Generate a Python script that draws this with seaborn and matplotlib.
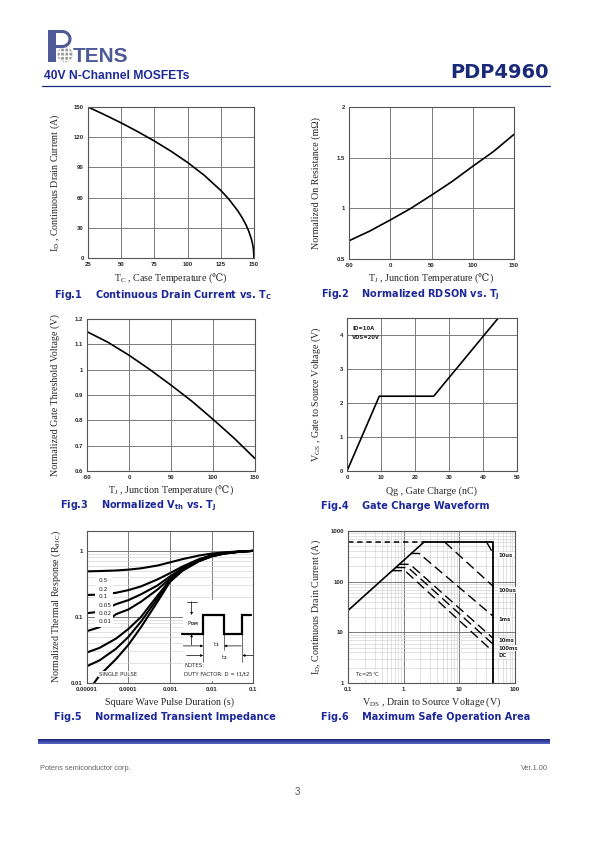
import numpy as np
import pandas as pd
import matplotlib
matplotlib.use("Agg")
import matplotlib.pyplot as plt
import seaborn as sns
from matplotlib.patches import Rectangle, Circle
from matplotlib.ticker import LogLocator, NullFormatter
from matplotlib.colors import LinearSegmentedColormap

# ---------------- data ----------------
fig1_tc = [25, 37.5, 50, 62.5, 75, 87.5, 100, 112.5, 125, 131, 137.5, 141, 144, 146, 148, 149, 149.6, 150]
fig1_id = [150, 142.3, 134.2, 125.5, 116.2, 106.1, 94.9, 82.2, 67.1, 58.5, 47.4, 40.2, 32.9, 26.8, 19.0, 13.4, 8.5, 0]
fig1_xticks = [25, 50, 75, 100, 125, 150]
fig1_yticks = [0, 30, 60, 90, 120, 150]

fig2_tj = [-50, -25, 0, 25, 50, 75, 100, 125, 150]
fig2_rds = [0.68, 0.775, 0.885, 1.0, 1.13, 1.265, 1.415, 1.56, 1.73]
fig2_xticks = [-50, 0, 50, 100, 150]
fig2_yticks = [0.5, 1, 1.5, 2]
fig2_ylabels = ["0.5", "1", "1.5", "2"]

fig3_tj = [-50, -25, 0, 25, 50, 75, 100, 125, 150]
fig3_vth = [1.15, 1.108, 1.057, 1.0, 0.939, 0.875, 0.804, 0.73, 0.649]
fig3_xticks = [-50, 0, 50, 100, 150]
fig3_yticks = [0.6, 0.7, 0.8, 0.9, 1.0, 1.1, 1.2]
fig3_ylabels = ["0.6", "0.7", "0.8", "0.9", "1", "1.1", "1.2"]

fig4_qg = [0, 9.5, 25.5, 44.5]
fig4_vgs = [0, 2.2, 2.2, 4.5]
fig4_xticks = [0, 10, 20, 30, 40, 50]
fig4_yticks = [0, 1, 2, 3, 4]

fig5_t = [1e-5, 2e-5, 5e-5, 1e-4, 2e-4, 5e-4, 1e-3, 2e-3, 5e-3, 1e-2, 2e-2, 5e-2, 1e-1]
fig5_t_single = [1.4e-5, 2e-5, 5e-5, 1e-4, 2e-4, 5e-4, 1e-3, 2e-3, 5e-3, 1e-2, 2e-2, 5e-2, 1e-1]
fig5_d05 = [0.49, 0.495, 0.505, 0.52, 0.545, 0.6, 0.67, 0.75, 0.85, 0.91, 0.95, 0.985, 1.0]
fig5_d02 = [0.215, 0.218, 0.232, 0.255, 0.29, 0.37, 0.46, 0.58, 0.75, 0.86, 0.93, 0.98, 1.0]
fig5_d01 = [0.114, 0.12, 0.156, 0.18, 0.22, 0.3, 0.41, 0.55, 0.73, 0.85, 0.92, 0.98, 1.0]
fig5_d005 = [0.061, 0.07, 0.11, 0.13, 0.17, 0.26, 0.38, 0.53, 0.72, 0.84, 0.92, 0.975, 1.0]
fig5_d002 = [0.029, 0.034, 0.047, 0.066, 0.1, 0.21, 0.36, 0.52, 0.71, 0.83, 0.91, 0.975, 1.0]
fig5_d001 = [0.018, 0.022, 0.033, 0.05, 0.085, 0.19, 0.35, 0.51, 0.70, 0.83, 0.91, 0.975, 1.0]
fig5_single = [0.0095, 0.013, 0.023, 0.038, 0.07, 0.17, 0.34, 0.5, 0.70, 0.82, 0.91, 0.975, 1.0]
fig5_duty_labels = ["0.5", "0.2", "0.1", "0.05", "0.02", "0.01"]
fig5_xticks = [1e-5, 1e-4, 1e-3, 1e-2, 1e-1]
fig5_xlabels = ["0.00001", "0.0001", "0.001", "0.01", "0.1"]
fig5_yticks = [0.01, 0.1, 1]
fig5_ylabels = ["0.01", "0.1", "1"]

soa_rds_v = [0.1, 2.3]
soa_rds_i = [27, 600]
soa_lim_v = [2.3, 40, 40]
soa_lim_i = [600, 600, 1]
soa_top_v = [0.1, 2.3]
soa_top_i = [600, 600]
soa_10us_v = [31, 40];            soa_10us_i = [600, 370]
soa_100us_v = [5.5, 40];          soa_100us_i = [600, 82]
soa_1ms_v = [1.33, 1.9, 40];      soa_1ms_i = [360, 360, 21]
soa_10ms_v = [0.82, 1.3, 40];     soa_10ms_i = [220, 220, 7.7]
soa_100ms_v = [0.72, 1.2, 40];    soa_100ms_i = [190, 190, 5.9]
soa_dc_v = [0.62, 1.05, 40];      soa_dc_i = [165, 165, 4.2]
soa_labels = ["10us", "100us", "1ms", "10ms", "100ms", "DC"]
soa_label_i = [331, 68, 18.2, 6.9, 4.9, 3.5]
fig6_xticks = [0.1, 1, 10, 100]
fig6_xlabels = ["0.1", "1", "10", "100"]
fig6_yticks = [1, 10, 100, 1000]
fig6_ylabels = ["1", "10", "100", "1000"]

# ---------------- style ----------------
sns.set_style("white")
plt.rcParams.update({
    "font.family": ["Liberation Serif", "DejaVu Serif"],
    "mathtext.fontset": "custom",
    "mathtext.rm": "Liberation Serif",
    "mathtext.it": "Liberation Serif:italic",
    "mathtext.bf": "Liberation Serif:bold",
    "mathtext.sf": "DejaVu Sans:bold",
    "mathtext.cal": "DejaVu Serif",
    "mathtext.fallback": "stix",
    "axes.unicode_minus": False,
})

BLUE = "#1c2899"
NAVY = "#1b2a78"
LOGO = "#4e5a98"
W, H = 595, 842
DEGC = "$\\mathcal{\u2103}$"
fig = plt.figure(figsize=(W / 100, H / 100), dpi=100)

bg = fig.add_axes([0, 0, 1, 1])
bg.set_xlim(0, W)
bg.set_ylim(H, 0)
bg.axis("off")


def box(x0, y0, x1, y1):
    return fig.add_axes([x0 / W, 1 - y1 / H, (x1 - x0) / W, (y1 - y0) / H])


TICKFONT = dict(fontsize=4.3, fontweight="bold", family="Liberation Sans")
LABELFONT = dict(fontsize=7.2, family=["Liberation Serif", "DejaVu Serif"])


def style(ax, xt, xl, yt, yl, xlab, ylab, xlc, ylc, log=False):
    ax.set_xticks(xt)
    ax.set_xticklabels(xl, **TICKFONT)
    ax.set_yticks(yt)
    ax.set_yticklabels(yl, **TICKFONT)
    ax.tick_params(which="both", length=0, pad=3)
    ax.set_axisbelow(True)
    if log:
        ax.grid(True, which="minor", color="#d2d2d2", lw=0.45)
        ax.grid(True, which="major", color="#7a7a7a", lw=0.7)
    else:
        ax.grid(True, color="#7a7a7a", lw=0.7)
    for s in ax.spines.values():
        s.set_color("#555555")
        s.set_linewidth(0.8)
    ax.set_xlabel(xlab, va="center", **LABELFONT)
    ax.set_ylabel(ylab, va="center", ha="center", **LABELFONT)
    ax.xaxis.set_label_coords(0.5, xlc)
    ax.yaxis.set_label_coords(ylc, 0.5)


def caption(x, y, s):
    fig.text(x / W, 1 - y / H, s, family="DejaVu Sans", fontweight="bold",
             fontsize=7.0, color=BLUE, va="center", ha="left")


# ---------------- header ----------------
bg.add_patch(Rectangle((48, 30), 7.5, 32, color=LOGO, lw=0))
ang = np.linspace(np.pi / 2, -np.pi / 2, 40)
bg.plot(np.r_[55, 62 + 8 * np.cos(ang), 55], np.r_[31.5, 39 + 7.5 * np.sin(-ang), 46.5],
        color=LOGO, lw=2.2, solid_capstyle="butt")
bg.add_patch(Circle((65, 54.5), 7.5, facecolor="#9a9a9a", edgecolor="white", hatch="++++", lw=0))
bg.text(73, 62, "TENS", family=["Liberation Sans Narrow", "Liberation Sans"], fontsize=15,
        fontweight="bold", color=LOGO, va="baseline", ha="left")
bg.text(44, 76, "40V N-Channel MOSFETs", family="Liberation Sans", fontweight="bold",
        fontsize=8.7, color=BLUE, va="center", ha="left")
bg.text(549, 73, "PDP4960", family="DejaVu Sans", fontweight="bold", fontsize=14,
        color=NAVY, va="center", ha="right")
bg.plot([42, 550], [85.5, 85.5], color=NAVY, lw=0.9)

# ---------------- Fig.1 ----------------
ax1 = box(88, 107, 254, 258)
sns.lineplot(x=fig1_tc, y=fig1_id, ax=ax1, color="black", lw=1.2, estimator=None, sort=False)
ax1.set_xlim(25, 150)
ax1.set_ylim(0, 150)
style(ax1, fig1_xticks, [str(v) for v in fig1_xticks], fig1_yticks, [str(v) for v in fig1_yticks],
      "T$_{\\mathrm{C}}$ , Case Temperature (" + DEGC + ")",
      "I$_{\\mathrm{D}}$ , Continuous Drain Current (A)", -0.134, -0.199)
caption(54, 294.5, "Fig.1    Continuous Drain Current vs. T$_{\\mathsf{C}}$")

# ---------------- Fig.2 ----------------
ax2 = box(349, 107, 514, 259)
sns.lineplot(x=fig2_tj, y=fig2_rds, ax=ax2, color="black", lw=1.2, estimator=None, sort=False)
ax2.set_xlim(-50, 150)
ax2.set_ylim(0.5, 2)
style(ax2, fig2_xticks, [str(v) for v in fig2_xticks], fig2_yticks, fig2_ylabels,
      "T$_{\\mathrm{J}}$ , Junction Temperature (" + DEGC + ")", "Normalized On Resistance (m\u03a9)",
      -0.127, -0.196)
caption(321, 294.5, "Fig.2    Normalized RDSON vs. T$_{\\mathsf{J}}$")

# ---------------- Fig.3 ----------------
ax3 = box(87, 319, 255, 471)
sns.lineplot(x=fig3_tj, y=fig3_vth, ax=ax3, color="black", lw=1.2, estimator=None, sort=False)
ax3.set_xlim(-50, 150)
ax3.set_ylim(0.6, 1.2)
style(ax3, fig3_xticks, [str(v) for v in fig3_xticks], fig3_yticks, fig3_ylabels,
      "T$_{\\mathrm{J}}$ , Junction Temperature (" + DEGC + ")", "Normalized Gate Threshold Voltage (V)",
      -0.125, -0.19)
caption(60, 506, "Fig.3    Normalized V$_{\\mathsf{th}}$ vs. T$_{\\mathsf{J}}$")

# ---------------- Fig.4 ----------------
ax4 = box(347, 318, 517, 471)
sns.lineplot(x=fig4_qg, y=fig4_vgs, ax=ax4, color="black", lw=1.2, estimator=None, sort=False)
ax4.set_xlim(0, 50)
ax4.set_ylim(0, 4.5)
style(ax4, fig4_xticks, [str(v) for v in fig4_xticks], fig4_yticks, [str(v) for v in fig4_yticks],
      "Qg , Gate Charge (nC)", "V$_{\\mathrm{GS}}$ , Gate to Source Voltage (V)",
      -0.135, -0.182)
ax4.text(0.03, 0.93, "ID=10A", transform=ax4.transAxes, family="DejaVu Sans",
         fontweight="bold", fontsize=3.8, va="center")
ax4.text(0.03, 0.87, "VDS=20V", transform=ax4.transAxes, family="DejaVu Sans",
         fontweight="bold", fontsize=3.8, va="center")
caption(321, 506, "Fig.4    Gate Charge Waveform")

# ---------------- Fig.5 ----------------
ax5 = box(87, 531, 253, 683)
ax5.set_xscale("log")
ax5.set_yscale("log")
curves = [fig5_d05, fig5_d02, fig5_d01, fig5_d005, fig5_d002, fig5_d001, fig5_single]
names = fig5_duty_labels + ["single"]
rows = []
for nm, ys in zip(names, curves):
    xs = fig5_t_single if nm == "single" else fig5_t
    for xv, yv in zip(xs, ys):
        rows.append((nm, xv, yv))
df5 = pd.DataFrame(rows, columns=["duty", "t", "z"])
sns.lineplot(data=df5, x="t", y="z", hue="duty", palette=["black"] * len(names),
             legend=False, estimator=None, sort=False, lw=1.5, ax=ax5)
ax5.set_xlim(1e-5, 0.1)
ax5.set_ylim(0.01, 2)
ax5.xaxis.set_minor_locator(LogLocator(base=10, subs=np.arange(2, 10)))
ax5.yaxis.set_minor_locator(LogLocator(base=10, subs=np.arange(2, 10)))
ax5.xaxis.set_minor_formatter(NullFormatter())
ax5.yaxis.set_minor_formatter(NullFormatter())
style(ax5, fig5_xticks, fig5_xlabels, fig5_yticks, fig5_ylabels,
      "Square Wave Pulse Duration (s)", "Normalized Thermal Response (R$_{\\theta\\mathrm{JC}}$)",
      -0.125, -0.183, log=True)
# duty-cycle label box
ax5.add_patch(Rectangle((0.05, 0.37), 0.108, 0.335, transform=ax5.transAxes,
                        facecolor="white", edgecolor="none", zorder=3))
for lab, fy in zip(fig5_duty_labels, [0.672, 0.616, 0.566, 0.511, 0.459, 0.402]):
    ax5.text(0.07, fy, lab, transform=ax5.transAxes, fontsize=4.2, family="DejaVu Sans",
             va="center", ha="left", zorder=4)
ax5.text(0.07, 0.059, "SINGLE PULSE", transform=ax5.transAxes, fontsize=3.9,
         family="DejaVu Sans", va="center", ha="left", zorder=4,
         bbox=dict(facecolor="white", edgecolor="none", pad=0.4))
# inset diagram
ax5.add_patch(Rectangle((0.58, 0.015), 0.418, 0.531, transform=ax5.transAxes,
                        facecolor="white", edgecolor="none", zorder=3))
T = ax5.transAxes
ax5.plot([0.57, 0.70, 0.70, 0.826, 0.826, 0.936, 0.936, 0.99],
         [0.321, 0.321, 0.448, 0.448, 0.321, 0.321, 0.448, 0.448],
         transform=T, color="black", lw=1.6, zorder=4, solid_joinstyle="miter")
for xe, y0 in [(0.70, 0.14), (0.826, 0.22), (0.936, 0.14)]:
    ax5.plot([xe, xe], [y0, 0.321], transform=T, color="black", lw=0.4, zorder=4)
ax5.plot([0.60, 0.66], [0.535, 0.535], transform=T, color="black", lw=0.5, zorder=4)
arrow = dict(arrowstyle="-|>", color="black", lw=0.5, mutation_scale=3.5, shrinkA=0, shrinkB=0)
for xy, xyt in [((0.63, 0.448), (0.63, 0.535)), ((0.63, 0.321), (0.63, 0.25)),
                ((0.70, 0.244), (0.58, 0.244)), ((0.826, 0.244), (0.93, 0.244)),
                ((0.70, 0.181), (0.60, 0.181)), ((0.936, 0.181), (1.0, 0.181))]:
    a = ax5.annotate("", xy=xy, xytext=xyt, xycoords="axes fraction", textcoords="axes fraction",
                     arrowprops=arrow)
    a.set_zorder(4)
ax5.text(0.6, 0.39, "P$_{\\mathsf{DM}}$", transform=T, fontsize=4, family="DejaVu Sans",
         va="center", zorder=4)
ax5.text(0.76, 0.25, "t$_{\\mathsf{1}}$", transform=T, fontsize=4, family="DejaVu Sans",
         va="center", zorder=4)
ax5.text(0.81, 0.165, "t$_{\\mathsf{2}}$", transform=T, fontsize=4, family="DejaVu Sans",
         va="center", zorder=4)
ax5.text(0.585, 0.115, "NOTES:", transform=T, fontsize=3.9, family="DejaVu Sans",
         va="center", zorder=4)
ax5.text(0.585, 0.059, "DUTY FACTOR: D = t1/t2", transform=T, fontsize=3.9,
         family="DejaVu Sans", va="center", zorder=4)
caption(54, 717.5, "Fig.5    Normalized Transient Impedance")

# ---------------- Fig.6 ----------------
ax6 = box(348, 531, 515, 683)
ax6.set_xscale("log")
ax6.set_yscale("log")
sns.lineplot(x=soa_rds_v, y=soa_rds_i, ax=ax6, color="black", lw=1.2, estimator=None, sort=False)
sns.lineplot(x=soa_lim_v, y=soa_lim_i, ax=ax6, color="black", lw=1.3, estimator=None, sort=False)
sns.lineplot(x=soa_top_v, y=soa_top_i, ax=ax6, color="black", lw=1.1, estimator=None, sort=False,
             linestyle=(0, (3.5, 2.5)))
for vs, cs in [(soa_10us_v, soa_10us_i), (soa_100us_v, soa_100us_i), (soa_1ms_v, soa_1ms_i),
               (soa_10ms_v, soa_10ms_i), (soa_100ms_v, soa_100ms_i), (soa_dc_v, soa_dc_i)]:
    sns.lineplot(x=vs, y=cs, ax=ax6, color="black", lw=1.0, estimator=None, sort=False,
                 linestyle=(0, (7, 3.5)))
ax6.set_xlim(0.1, 100)
ax6.set_ylim(1, 1000)
ax6.xaxis.set_minor_locator(LogLocator(base=10, subs=np.arange(2, 10)))
ax6.yaxis.set_minor_locator(LogLocator(base=10, subs=np.arange(2, 10)))
ax6.xaxis.set_minor_formatter(NullFormatter())
ax6.yaxis.set_minor_formatter(NullFormatter())
style(ax6, fig6_xticks, fig6_xlabels, fig6_yticks, fig6_ylabels,
      "V$_{\\mathrm{DS}}$ , Drain to Source Voltage (V)", "I$_{\\mathrm{D}}$, Continuous Drain Current (A)",
      -0.129, -0.19, log=True)
for lab, iv in zip(soa_labels, soa_label_i):
    ax6.text(50, iv, lab, fontsize=3.8, family="DejaVu Sans", fontweight="bold",
             va="center", ha="left", zorder=4,
             bbox=dict(facecolor="white", edgecolor="none", pad=0.3))
ax6.text(0.04, 0.054, "T$_{\\mathsf{C}}$=25\u00b0C", transform=ax6.transAxes, fontsize=3.8,
         family="DejaVu Sans", va="center", ha="left",
         bbox=dict(facecolor="white", edgecolor="none", pad=0.3))
caption(321, 717.5, "Fig.6    Maximum Safe Operation Area")

# ---------------- footer ----------------
grad = np.linspace(0, 1, 20).reshape(-1, 1)
cmap = LinearSegmentedColormap.from_list("f", ["#1c2580", "#5567c4"])
bg.imshow(grad, extent=[38, 550, 744.5, 740], aspect="auto", cmap=cmap, origin="upper")
bg.set_xlim(0, W)
bg.set_ylim(H, 0)
bg.text(40, 769, "Potens semiconductor corp.", family="Liberation Sans", fontsize=5.3,
        color="#666666", va="center", ha="left")
bg.text(548, 769, "Ver.1.00", family="Liberation Sans", fontsize=5.3,
        color="#666666", va="center", ha="right")
bg.text(297.5, 792, "3", family="Liberation Sans", fontsize=7, color="#555555",
        va="center", ha="center")

fig.savefig("out.png", dpi=100)
